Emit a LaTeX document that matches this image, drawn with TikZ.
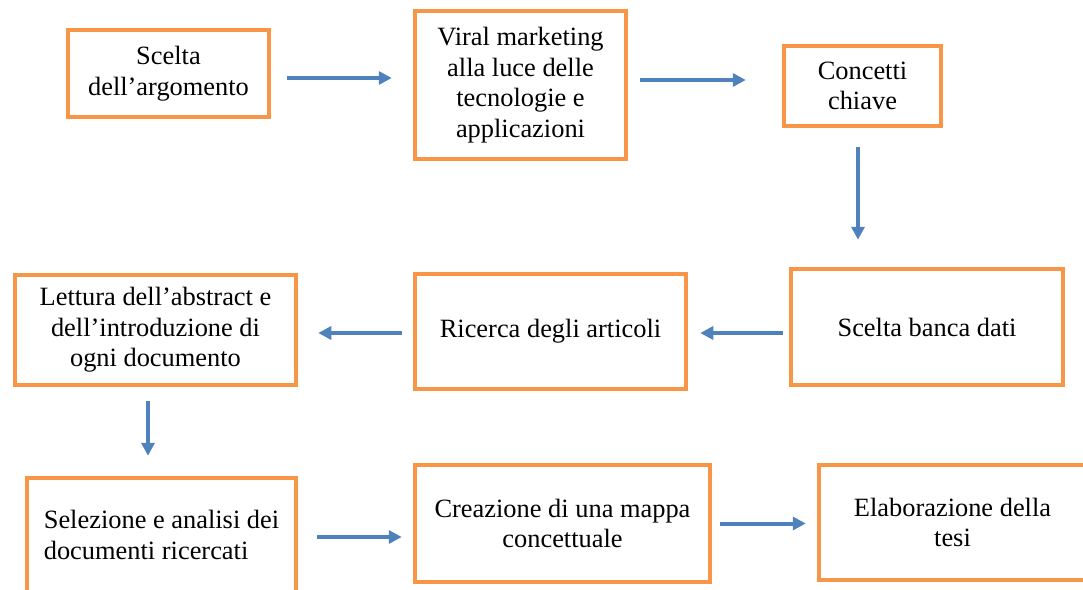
\documentclass[tikz,border=0pt]{standalone}
\usepackage{fontspec}
\setmainfont{Liberation Serif}
\usetikzlibrary{arrows.meta}
\usetikzlibrary{calc}
\usetikzlibrary{positioning}

\definecolor{boxorange}{RGB}{247,150,70}
\definecolor{flowblue}{RGB}{79,129,189}

\tikzset{
  stepbox/.style={draw=boxorange, line width=4.5pt, fill=white, align=center, inner sep=0pt,
    font=\fontsize{26.4}{30.5}\selectfont},
  flow/.style={draw=flowblue, line width=4pt, -{Triangle[length=13pt,width=13pt]}}
}

\begin{document}
\begin{tikzpicture}[x=1pt,y=-1pt]
    \useasboundingbox (0,0) rectangle (1083,589);
    \clip (0,0) rectangle (1083,589);

    \node[stepbox, minimum width=201pt, minimum height=87pt] (scelta) at (168.5,73.5) {Scelta\\dell’argomento};

    \node[stepbox, minimum width=211pt, minimum height=148pt] (viral) at (520.5,85) {Viral marketing\\alla luce delle\\tecnologie e\\applicazioni};

    \node[stepbox, minimum width=157pt, minimum height=80pt] (concetti) at (862.5,86) {Concetti\\chiave};

    \node[stepbox, minimum width=272pt, minimum height=116pt] (banca) at (927,327) {Scelta banca dati};

    \node[stepbox, minimum width=271pt, minimum height=115pt] (ricerca) at (550.5,331.5) {Ricerca degli articoli};

    \node[stepbox, minimum width=281pt, minimum height=110pt] (lettura) at (155.5,330) {Lettura dell’abstract e\\dell’introduzione di\\ogni documento};

    \node[stepbox, align=left, minimum width=269pt, minimum height=114pt] (selezione) at (161.5,535) {Selezione e analisi dei\\documenti ricercati};

    \node[stepbox, minimum width=295pt, minimum height=117pt] (creazione) at (562.5,523.5) {Creazione di una mappa\\concettuale};

    \node[stepbox, minimum width=267pt, minimum height=115pt] (elaborazione) at (952.5,522.5) {Elaborazione della\\tesi};

    %\pause

    \draw[flow] ([xshift=16pt,yshift=-4.5pt]scelta.east) -- ([xshift=-21pt,yshift=-4.5pt]scelta.east -| viral.west);
    \draw[flow] ([xshift=12pt,yshift=5pt]viral.east) -- ([xshift=-36pt,yshift=5pt]viral.east -| concetti.west);
    \draw[flow] ([xshift=-4.5pt,yshift=-19pt]concetti.south) -- ([xshift=-4.5pt,yshift=27pt]concetti.south |- banca.north);
    \draw[flow] ([xshift=-6pt,yshift=-6pt]banca.west) -- ([xshift=12pt,yshift=-6pt]banca.west -| ricerca.east);
    \draw[flow] ([xshift=-11pt,yshift=-1.5pt]ricerca.west) -- ([xshift=20pt,yshift=-1.5pt]ricerca.west -| lettura.east);
    \draw[flow] ([xshift=-7.5pt,yshift=-14pt]lettura.south) -- ([xshift=-7.5pt,yshift=20pt]lettura.south |- selezione.north);
    \draw[flow] ([xshift=19pt,yshift=-2pt]selezione.east) -- ([xshift=-11pt,yshift=-2pt]selezione.east -| creazione.west);
    \draw[flow] ([xshift=8pt]creazione.east) -- ([xshift=-11pt]creazione.east -| elaborazione.west);

  \end{tikzpicture}
\end{document}
